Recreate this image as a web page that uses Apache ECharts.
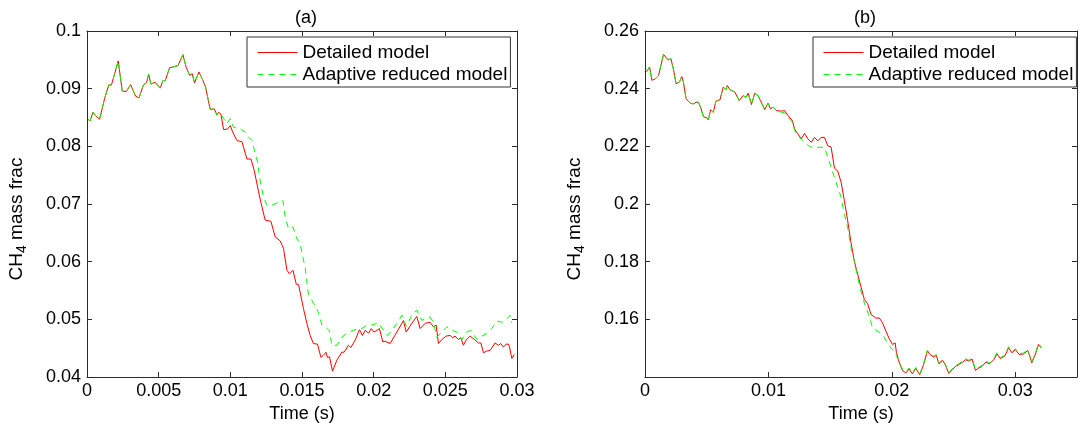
<!DOCTYPE html>
<html>
<head>
<meta charset="utf-8">
<script src="https://cdn.jsdelivr.net/npm/echarts@6/dist/echarts.min.js"></script>
<style>
  html, body { margin: 0; padding: 0; background: #fff; }
  #chart { width: 1083px; height: 428px; }
</style>
</head>
<body>
<div id="chart"></div>
<script>
// panel (a): detailed model
const aRedT = [0.00007, 0.00021, 0.00042, 0.0006, 0.00088, 0.00123, 0.00153, 0.0017, 0.00193, 0.00218,
  0.00246, 0.00274, 0.00304, 0.00316, 0.00339, 0.00363, 0.00393, 0.00416, 0.0043, 0.00446,
  0.00476, 0.00511, 0.0053, 0.00546, 0.00576, 0.00604, 0.00635, 0.00669, 0.00692, 0.00716,
  0.00734, 0.0075, 0.00781, 0.00809, 0.00827, 0.00851, 0.0086, 0.00872, 0.00888, 0.00907,
  0.00918, 0.00934, 0.00953, 0.0098, 0.01, 0.01016, 0.01046, 0.01081, 0.01116, 0.01144,
  0.01167, 0.0118, 0.01197, 0.01213, 0.01243, 0.01283, 0.01313, 0.01348, 0.01371, 0.01395,
  0.01413, 0.01437, 0.0146, 0.01476, 0.01487, 0.0151, 0.01534, 0.01557, 0.0158, 0.01608,
  0.01632, 0.0165, 0.01667, 0.01678, 0.01692, 0.01713, 0.01743, 0.01778, 0.01794, 0.01824,
  0.01841, 0.01871, 0.01901, 0.01922, 0.01941, 0.01964, 0.01983, 0.02003, 0.02017, 0.0204,
  0.02064, 0.0208, 0.02115, 0.02162, 0.02208, 0.02227, 0.02266, 0.02301, 0.02324, 0.02359,
  0.02371, 0.02394, 0.02417, 0.02436, 0.02452, 0.02476, 0.02506, 0.02534, 0.02552, 0.02568,
  0.02591, 0.02608, 0.02626, 0.02645, 0.02673, 0.02708, 0.02731, 0.02748, 0.02766, 0.02789,
  0.02812, 0.02847, 0.0287, 0.02887, 0.02905, 0.02924, 0.0294, 0.02947, 0.02964, 0.0298];
const aRedV = [0.0847, 0.0844, 0.0859, 0.0853, 0.0847, 0.0883, 0.0907, 0.0906, 0.0926, 0.0948,
  0.0896, 0.0895, 0.0907, 0.0906, 0.0887, 0.0884, 0.0906, 0.0911, 0.0925, 0.0908,
  0.0911, 0.0901, 0.0914, 0.0914, 0.0936, 0.0938, 0.094, 0.0959, 0.0937, 0.0923,
  0.0926, 0.091, 0.0929, 0.0914, 0.0903, 0.0874, 0.0864, 0.0862, 0.0865, 0.0854,
  0.0859, 0.0856, 0.0829, 0.083, 0.0836, 0.0825, 0.081, 0.0808, 0.0778, 0.0778,
  0.0758, 0.0757, 0.0721, 0.0703, 0.0672, 0.067, 0.0643, 0.0636, 0.0623, 0.0585,
  0.0579, 0.0585, 0.0561, 0.056, 0.0547, 0.0519, 0.0493, 0.0472, 0.0458, 0.0457,
  0.0434, 0.0438, 0.0443, 0.0434, 0.0435, 0.041, 0.0429, 0.0443, 0.0443, 0.0455,
  0.0451, 0.0464, 0.0482, 0.0472, 0.0481, 0.0476, 0.0484, 0.0478, 0.048, 0.0484,
  0.0461, 0.0462, 0.0458, 0.0478, 0.0498, 0.0478, 0.0493, 0.0505, 0.0484, 0.0493,
  0.049, 0.0495, 0.0487, 0.049, 0.0458, 0.0465, 0.0471, 0.0472, 0.0468, 0.0471,
  0.0465, 0.0468, 0.0455, 0.0464, 0.0471, 0.0464, 0.0459, 0.0459, 0.0442, 0.0445,
  0.0446, 0.0459, 0.0455, 0.0458, 0.0452, 0.0457, 0.0457, 0.0453, 0.0432, 0.0439];

// panel (a): adaptive reduced model
const aGreenT = [0.00007, 0.00021, 0.00042, 0.0006, 0.00088, 0.00123, 0.00153, 0.0017, 0.00193, 0.00218,
  0.00246, 0.00274, 0.00304, 0.00316, 0.00339, 0.00363, 0.00393, 0.00416, 0.0043, 0.00446,
  0.00476, 0.00511, 0.0053, 0.00546, 0.00576, 0.00604, 0.00635, 0.00669, 0.00692, 0.00716,
  0.00734, 0.0075, 0.00781, 0.00809, 0.00827, 0.00851, 0.0086, 0.00872, 0.00888, 0.00907,
  0.00918, 0.00934, 0.00976, 0.00999, 0.01022, 0.01069, 0.01104, 0.01127, 0.01151, 0.01174,
  0.0119, 0.01209, 0.01232, 0.01255, 0.0129, 0.01329, 0.01367, 0.01383, 0.01406, 0.01437,
  0.01464, 0.01487, 0.015, 0.01523, 0.01545, 0.0158, 0.01615, 0.01639, 0.01662, 0.01692,
  0.01708, 0.01743, 0.01778, 0.01824, 0.01871, 0.01918, 0.01953, 0.01987, 0.02034, 0.02068,
  0.02096, 0.02127, 0.02162, 0.02197, 0.02227, 0.02266, 0.02301, 0.02336, 0.02366, 0.02394,
  0.02417, 0.02441, 0.02476, 0.02511, 0.02545, 0.0258, 0.02615, 0.0265, 0.02678, 0.0272,
  0.02755, 0.02789, 0.02824, 0.02859, 0.02894, 0.02929, 0.02952, 0.02964];
const aGreenV = [0.0847, 0.0844, 0.0859, 0.0853, 0.0847, 0.0883, 0.0907, 0.0906, 0.0926, 0.0948,
  0.0896, 0.0895, 0.0907, 0.0906, 0.0887, 0.0884, 0.0906, 0.0911, 0.0925, 0.0908,
  0.0911, 0.0901, 0.0914, 0.0914, 0.0936, 0.0938, 0.094, 0.0959, 0.0937, 0.0923,
  0.0926, 0.091, 0.0929, 0.0914, 0.0903, 0.0874, 0.0864, 0.0862, 0.0865, 0.0854,
  0.0859, 0.0856, 0.0839, 0.0848, 0.0833, 0.083, 0.0825, 0.0816, 0.081, 0.0787,
  0.0773, 0.0738, 0.0712, 0.0698, 0.0698, 0.0702, 0.0706, 0.0677, 0.0657, 0.066,
  0.064, 0.0631, 0.0615, 0.0588, 0.0543, 0.0528, 0.0512, 0.049, 0.0487, 0.048,
  0.0455, 0.0455, 0.0469, 0.0478, 0.0482, 0.0484, 0.049, 0.049, 0.0494, 0.0481,
  0.0472, 0.0481, 0.0493, 0.0507, 0.0488, 0.0507, 0.0516, 0.0498, 0.0503, 0.0504,
  0.0495, 0.0469, 0.0478, 0.0487, 0.0481, 0.0478, 0.0465, 0.0478, 0.0481, 0.0465,
  0.0471, 0.0476, 0.0484, 0.0497, 0.0495, 0.0501, 0.0507, 0.0494];

// panel (b): detailed model
const bRedT = [0.0001, 0.00021, 0.00037, 0.00056, 0.00083, 0.0011, 0.00129, 0.0015, 0.00172, 0.0019,
  0.0021, 0.00231, 0.00252, 0.00279, 0.00298, 0.00311, 0.00333, 0.00365, 0.00392, 0.00414,
  0.00432, 0.00452, 0.00473, 0.005, 0.00513, 0.00532, 0.00553, 0.00575, 0.00607, 0.00634,
  0.00656, 0.00666, 0.00688, 0.00728, 0.00763, 0.00795, 0.00817, 0.00836, 0.00863, 0.00889,
  0.00916, 0.00935, 0.0097, 0.00997, 0.01016, 0.01037, 0.01065, 0.01105, 0.01131, 0.01158,
  0.01194, 0.01212, 0.01239, 0.01266, 0.01293, 0.01319, 0.01347, 0.01373, 0.014, 0.01427,
  0.01454, 0.01481, 0.01508, 0.01535, 0.01561, 0.01589, 0.01615, 0.01642, 0.01669, 0.01696,
  0.01723, 0.0175, 0.01777, 0.01803, 0.01831, 0.01844, 0.01871, 0.01884, 0.01898, 0.01924,
  0.01952, 0.01978, 0.02005, 0.02027, 0.02037, 0.02059, 0.02085, 0.02113, 0.0214, 0.02166,
  0.02194, 0.02226, 0.02255, 0.02287, 0.02315, 0.02341, 0.0236, 0.02381, 0.02411, 0.02435,
  0.02462, 0.02489, 0.02516, 0.02543, 0.02575, 0.02597, 0.02623, 0.0265, 0.02677, 0.02704,
  0.02731, 0.02763, 0.0279, 0.02825, 0.02852, 0.02879, 0.02914, 0.02946, 0.02973, 0.03,
  0.03032, 0.03067, 0.03102, 0.03134, 0.03166, 0.03188, 0.0321];
const bRedV = [0.2457, 0.2452, 0.2475, 0.2429, 0.2434, 0.2446, 0.2481, 0.2519, 0.2507, 0.25,
  0.2504, 0.2466, 0.2417, 0.2423, 0.2442, 0.2423, 0.2365, 0.235, 0.2347, 0.2353,
  0.2353, 0.2334, 0.2303, 0.2299, 0.2292, 0.2327, 0.2318, 0.2357, 0.2361, 0.2405,
  0.2396, 0.2411, 0.2396, 0.2388, 0.2359, 0.2376, 0.237, 0.2384, 0.2345, 0.2384,
  0.2376, 0.2359, 0.2327, 0.235, 0.233, 0.2336, 0.2324, 0.2322, 0.2324, 0.2307,
  0.2289, 0.226, 0.2243, 0.2226, 0.2245, 0.2226, 0.2214, 0.2231, 0.2219, 0.2231,
  0.2231, 0.2202, 0.2197, 0.2124, 0.2115, 0.2075, 0.2012, 0.1942, 0.1866, 0.1802,
  0.1756, 0.1713, 0.1669, 0.1655, 0.1617, 0.1611, 0.1604, 0.16, 0.1605, 0.1588,
  0.1559, 0.1533, 0.1513, 0.1518, 0.1485, 0.1452, 0.1423, 0.1414, 0.1428, 0.1411,
  0.143, 0.1408, 0.144, 0.1489, 0.1476, 0.1469, 0.1475, 0.1446, 0.1458, 0.144,
  0.1412, 0.1425, 0.1437, 0.1443, 0.1452, 0.146, 0.1455, 0.1462, 0.1423, 0.1431,
  0.1437, 0.1452, 0.1445, 0.146, 0.148, 0.1464, 0.1472, 0.1501, 0.1484, 0.1495,
  0.1478, 0.148, 0.1492, 0.1449, 0.1483, 0.1513, 0.1501];

// panel (b): adaptive reduced model
const bGreenT = [0.0001, 0.00021, 0.00037, 0.00056, 0.00083, 0.0011, 0.00129, 0.0015, 0.00172, 0.0019,
  0.0021, 0.00231, 0.00252, 0.00279, 0.00298, 0.00311, 0.00333, 0.00365, 0.00392, 0.00414,
  0.00432, 0.00452, 0.00473, 0.005, 0.00513, 0.00532, 0.00553, 0.00575, 0.00607, 0.00634,
  0.00656, 0.00666, 0.00688, 0.00728, 0.00763, 0.00795, 0.00817, 0.00836, 0.00863, 0.00889,
  0.00916, 0.00935, 0.0097, 0.00997, 0.01016, 0.01037, 0.01065, 0.01105, 0.01131, 0.01158,
  0.01194, 0.01212, 0.01239, 0.0128, 0.01333, 0.01387, 0.01414, 0.01454, 0.01481, 0.01508,
  0.01548, 0.01589, 0.01615, 0.01642, 0.01669, 0.01696, 0.01723, 0.0175, 0.01777, 0.01811,
  0.01844, 0.01884, 0.01924, 0.01965, 0.01992, 0.02019, 0.02059, 0.02085, 0.02113, 0.0214,
  0.02166, 0.02194, 0.02226, 0.02255, 0.02287, 0.02315, 0.02341, 0.0236, 0.02381, 0.02411,
  0.02435, 0.02462, 0.02489, 0.02516, 0.02543, 0.02575, 0.02597, 0.02623, 0.0265, 0.02677,
  0.02704, 0.02731, 0.02763, 0.0279, 0.02825, 0.02852, 0.02879, 0.02914, 0.02946, 0.02973,
  0.03, 0.03032, 0.03067, 0.03102, 0.03134, 0.03166, 0.03188, 0.0321];
const bGreenV = [0.2457, 0.2452, 0.2475, 0.2429, 0.2434, 0.2446, 0.2481, 0.2519, 0.2507, 0.25,
  0.2504, 0.2466, 0.2417, 0.2423, 0.2442, 0.2423, 0.2365, 0.235, 0.2347, 0.2353,
  0.2353, 0.2334, 0.2303, 0.2299, 0.2292, 0.2327, 0.2318, 0.2357, 0.2361, 0.2405,
  0.2396, 0.2411, 0.2396, 0.2388, 0.2359, 0.2376, 0.237, 0.2384, 0.2345, 0.2384,
  0.2376, 0.2359, 0.2327, 0.235, 0.233, 0.2336, 0.2324, 0.2318, 0.2316, 0.2303,
  0.2283, 0.2256, 0.2236, 0.222, 0.2199, 0.2194, 0.2197, 0.2197, 0.2162, 0.2127,
  0.2075, 0.2023, 0.1965, 0.1918, 0.1849, 0.1802, 0.1744, 0.1698, 0.1657, 0.1617,
  0.157, 0.1559, 0.1548, 0.1518, 0.1501, 0.1489, 0.1455, 0.1427, 0.1418, 0.1431,
  0.1414, 0.1433, 0.1411, 0.1443, 0.1492, 0.1479, 0.1472, 0.1478, 0.1449, 0.1461,
  0.1443, 0.1415, 0.1428, 0.144, 0.1446, 0.1455, 0.1463, 0.1458, 0.1465, 0.1426,
  0.1434, 0.144, 0.1455, 0.1448, 0.1463, 0.1484, 0.1467, 0.1475, 0.1505, 0.1487,
  0.1498, 0.1481, 0.1483, 0.1495, 0.1452, 0.1486, 0.1517, 0.1504];

const names = ['Detailed model', 'Adaptive reduced model'];
const panelTitles = ['(a)', '(b)'];
const aXTicks = { min: 0, max: 0.03, step: 0.005 };
const aYTicks = { min: 0.04, max: 0.1, step: 0.01 };
const bXTicks = { min: 0, max: 0.035, step: 0.01 };
const bYTicks = { min: 0.14, max: 0.26, step: 0.02 };
const yName = '{n|CH}{s|4}{n| mass frac}';

const FONT = '"Liberation Sans", Arial, Helvetica, sans-serif';
const RED = '#ff0000';
const GREEN = '#00ff00';
const AXIS = '#2b2b2b';

const pairs = (ts, vs) => ts.map((t, i) => [t, vs[i]]);
const fmt = (v) => String(+v.toFixed(4));

function xAx(gi, ticks, pos, withLabel) {
  return {
    type: 'value', gridIndex: gi, position: pos,
    min: ticks.min, max: ticks.max, interval: ticks.step,
    axisLine: { show: true, onZero: false, lineStyle: { color: AXIS, width: 1 } },
    axisTick: { show: true, inside: true, length: 5, lineStyle: { color: AXIS } },
    axisLabel: {
      show: withLabel, color: '#000', fontSize: 18, fontFamily: FONT, margin: 5,
      formatter: fmt, showMaxLabel: gi === 0,
    },
    splitLine: { show: false },
    name: withLabel ? 'Time (s)' : '',
    nameLocation: 'middle', nameGap: 28,
    nameTextStyle: { color: '#000', fontSize: 18, fontFamily: FONT },
  };
}

function yAx(gi, ticks, pos, withLabel, gap) {
  return {
    type: 'value', gridIndex: gi, position: pos,
    min: ticks.min, max: ticks.max, interval: ticks.step,
    axisLine: { show: true, onZero: false, lineStyle: { color: AXIS, width: 1 } },
    axisTick: { show: true, inside: true, length: 5, lineStyle: { color: AXIS } },
    axisLabel: {
      show: withLabel, color: '#000', fontSize: 18, fontFamily: FONT, margin: 6,
      formatter: fmt, showMinLabel: gi === 0,
    },
    splitLine: { show: false },
    name: withLabel ? yName : '',
    nameLocation: 'middle', nameRotate: 90, nameGap: gap,
    nameTextStyle: {
      color: '#000', fontFamily: FONT,
      padding: [0, 30, 0, 0],
      rich: {
        n: { fontSize: 19, lineHeight: 24, verticalAlign: 'middle', fontFamily: FONT, color: '#000' },
        s: { fontSize: 14, lineHeight: 12, verticalAlign: 'bottom', fontFamily: FONT, color: '#000' },
      },
    },
  };
}

function legendAt(left) {
  return {
    data: names, orient: 'vertical', left: left, top: 37,
    itemWidth: 40, itemHeight: 10, itemGap: 3,
    padding: [6, 3, 3, 10],
    borderColor: '#333', borderWidth: 1, backgroundColor: '#fff',
    itemStyle: { opacity: 0 },
    lineStyle: { width: 1 },
    textStyle: { color: '#000', fontSize: 19, fontFamily: FONT },
    selectedMode: false,
  };
}

function lineSeries(name, xi, yi, data, color, dashed) {
  return {
    name: name, type: 'line', xAxisIndex: xi, yAxisIndex: yi,
    data: data, symbol: 'none', showSymbol: false, silent: true,
    lineStyle: { color: color, width: 1, type: dashed ? [6, 5] : 'solid' },
    itemStyle: { color: color },
  };
}

const chart = echarts.init(document.getElementById('chart'), null, { renderer: 'canvas' });
chart.setOption({
  animation: false,
  backgroundColor: '#fff',
  textStyle: { fontFamily: FONT },
  title: [
    { text: panelTitles[0], left: 290, top: 4, textStyle: { fontSize: 18, fontWeight: 'normal', color: '#000', fontFamily: FONT } },
    { text: panelTitles[1], left: 849, top: 4, textStyle: { fontSize: 18, fontWeight: 'normal', color: '#000', fontFamily: FONT } },
  ],
  legend: [legendAt(247), legendAt(813)],
  grid: [
    { left: 87, top: 31, width: 430, height: 346, outerBoundsMode: 'none' },
    { left: 645, top: 31, width: 432, height: 346, outerBoundsMode: 'none' },
  ],
  xAxis: [
    xAx(0, aXTicks, 'bottom', true),
    xAx(0, aXTicks, 'top', false),
    xAx(1, bXTicks, 'bottom', true),
    xAx(1, bXTicks, 'top', false),
  ],
  yAxis: [
    yAx(0, aYTicks, 'left', true, 58),
    yAx(0, aYTicks, 'right', false, 0),
    yAx(1, bYTicks, 'left', true, 58),
    yAx(1, bYTicks, 'right', false, 0),
  ],
  series: [
    lineSeries(names[0], 0, 0, pairs(aRedT, aRedV), RED, false),
    lineSeries(names[1], 0, 0, pairs(aGreenT, aGreenV), GREEN, true),
    lineSeries(names[0], 2, 2, pairs(bRedT, bRedV), RED, false),
    lineSeries(names[1], 2, 2, pairs(bGreenT, bGreenV), GREEN, true),
  ],
});
</script>
</body>
</html>
